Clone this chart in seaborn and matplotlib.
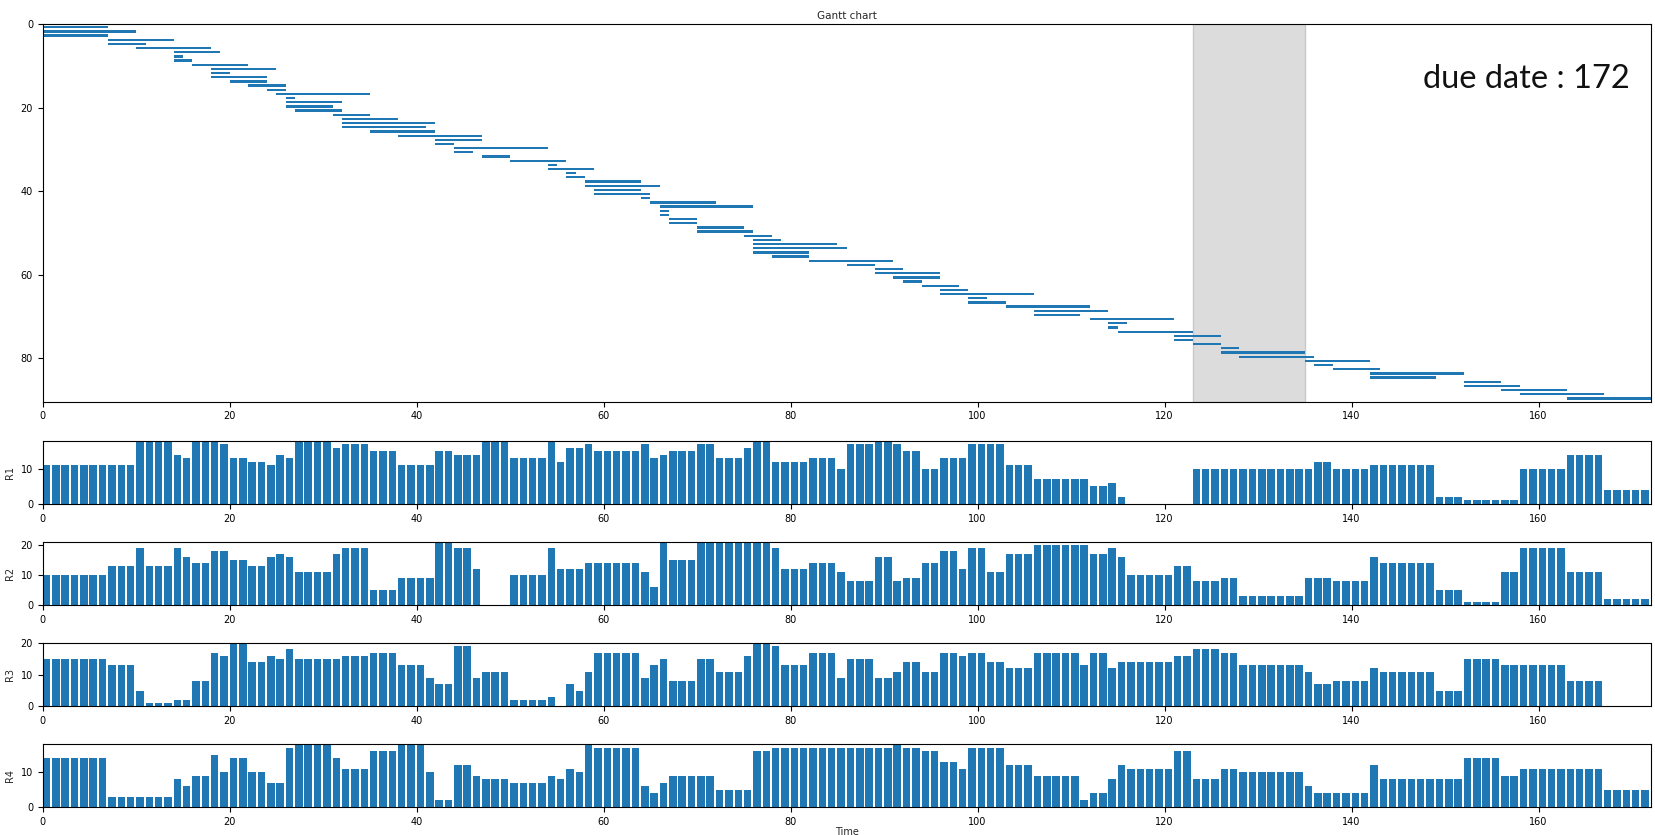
import numpy as np
import pandas as pd
import matplotlib
matplotlib.use("Agg")
import matplotlib.pyplot as plt
import seaborn as sns

# ---------------------------------------------------------------- schedule data
HORIZON = 172
DUE_DATE = 172
FROZEN_WINDOW = (123, 135)

task_start = [0, 0, 0, 7, 7, 10, 14, 14, 14, 16,
              18, 18, 18, 20, 22, 24, 25, 26, 26, 26,
              27, 31, 32, 32, 32, 35, 38, 42, 42, 44,
              44, 47, 50, 54, 54, 56, 56, 58, 58, 59,
              59, 64, 65, 66, 66, 66, 67, 67, 70, 70,
              75, 76, 76, 76, 76, 78, 82, 86, 89, 89,
              91, 92, 94, 96, 96, 99, 99, 103, 106, 106,
              112, 114, 114, 115, 121, 121, 123, 126, 126, 128,
              135, 136, 138, 142, 142, 152, 152, 156, 158, 163]
task_end = [7, 10, 7, 14, 11, 18, 19, 15, 16, 22,
            25, 20, 24, 24, 26, 26, 35, 27, 32, 31,
            32, 35, 38, 42, 41, 42, 47, 47, 44, 54,
            46, 50, 56, 55, 59, 57, 58, 64, 66, 64,
            65, 65, 72, 76, 67, 67, 70, 70, 75, 76,
            78, 79, 85, 86, 82, 82, 91, 89, 92, 96,
            96, 94, 98, 99, 106, 101, 103, 112, 114, 111,
            121, 116, 115, 123, 126, 123, 126, 128, 135, 136,
            142, 138, 143, 152, 149, 156, 158, 163, 167, 172]

resource_names = ["R1", "R2", "R3", "R4"]
resource_capacity = [18, 21, 20, 18]
resource_yticks = [[0, 10], [0, 10, 20], [0, 10, 20], [0, 10]]

usage_r1 = [11, 11, 11, 11, 11, 11, 11, 11, 11, 11,
            18, 18, 18, 18, 14, 13, 18, 18, 18, 17,
            13, 13, 12, 12, 11, 14, 13, 18, 18, 18,
            18, 16, 17, 17, 17, 15, 15, 15, 11, 11,
            11, 11, 15, 15, 14, 14, 14, 18, 18, 18,
            13, 13, 13, 13, 18, 12, 16, 16, 17, 15,
            15, 15, 15, 15, 17, 13, 14, 15, 15, 15,
            17, 17, 13, 13, 13, 16, 18, 18, 12, 12,
            12, 12, 13, 13, 13, 10, 17, 17, 17, 18,
            18, 17, 15, 15, 10, 10, 13, 13, 13, 17,
            17, 17, 17, 11, 11, 11, 7, 7, 7, 7,
            7, 7, 5, 5, 6, 2, 0, 0, 0, 0,
            0, 0, 0, 10, 10, 10, 10, 10, 10, 10,
            10, 10, 10, 10, 10, 10, 12, 12, 10, 10,
            10, 10, 11, 11, 11, 11, 11, 11, 11, 2,
            2, 2, 1, 1, 1, 1, 1, 1, 10, 10,
            10, 10, 10, 14, 14, 14, 14, 4, 4, 4,
            4, 4]
usage_r2 = [10, 10, 10, 10, 10, 10, 10, 13, 13, 13,
            19, 13, 13, 13, 19, 16, 14, 14, 18, 18,
            15, 15, 13, 13, 16, 17, 16, 11, 11, 11,
            11, 17, 19, 19, 19, 5, 5, 5, 9, 9,
            9, 9, 21, 21, 19, 19, 12, 0, 0, 0,
            10, 10, 10, 10, 19, 12, 12, 12, 14, 14,
            14, 14, 14, 14, 11, 6, 21, 15, 15, 15,
            21, 21, 21, 21, 21, 21, 21, 21, 19, 12,
            12, 12, 14, 14, 14, 11, 8, 8, 8, 16,
            16, 8, 9, 9, 14, 14, 18, 18, 12, 19,
            19, 11, 11, 17, 17, 17, 20, 20, 20, 20,
            20, 20, 17, 17, 19, 16, 10, 10, 10, 10,
            10, 13, 13, 8, 8, 8, 9, 9, 3, 3,
            3, 3, 3, 3, 3, 9, 9, 9, 8, 8,
            8, 8, 16, 14, 14, 14, 14, 14, 14, 5,
            5, 5, 1, 1, 1, 1, 11, 11, 19, 19,
            19, 19, 19, 11, 11, 11, 11, 2, 2, 2,
            2, 2]
usage_r3 = [15, 15, 15, 15, 15, 15, 15, 13, 13, 13,
            5, 1, 1, 1, 2, 2, 8, 8, 17, 16,
            20, 20, 14, 14, 16, 15, 18, 15, 15, 15,
            15, 15, 16, 16, 16, 17, 17, 17, 13, 13,
            13, 9, 7, 7, 19, 19, 9, 11, 11, 11,
            2, 2, 2, 2, 3, 0, 7, 5, 11, 17,
            17, 17, 17, 17, 9, 13, 15, 8, 8, 8,
            15, 15, 11, 11, 11, 16, 20, 20, 19, 13,
            13, 13, 17, 17, 17, 9, 15, 15, 15, 9,
            9, 11, 14, 14, 11, 11, 17, 17, 16, 17,
            17, 14, 14, 12, 12, 12, 17, 17, 17, 17,
            17, 13, 17, 17, 12, 14, 14, 14, 14, 14,
            14, 16, 16, 18, 18, 18, 17, 17, 13, 13,
            13, 13, 13, 13, 13, 11, 7, 7, 8, 8,
            8, 8, 12, 11, 11, 11, 11, 11, 11, 5,
            5, 5, 15, 15, 15, 15, 13, 13, 13, 13,
            13, 13, 13, 8, 8, 8, 8, 0, 0, 0,
            0, 0]
usage_r4 = [14, 14, 14, 14, 14, 14, 14, 3, 3, 3,
            3, 3, 3, 3, 8, 6, 9, 9, 15, 10,
            14, 14, 10, 10, 7, 7, 17, 18, 18, 18,
            18, 14, 11, 11, 11, 16, 16, 16, 18, 18,
            18, 10, 2, 2, 12, 12, 9, 8, 8, 8,
            7, 7, 7, 7, 9, 8, 11, 10, 18, 17,
            17, 17, 17, 17, 6, 4, 7, 9, 9, 9,
            9, 9, 5, 5, 5, 5, 16, 16, 17, 17,
            17, 17, 17, 17, 17, 17, 17, 17, 17, 17,
            17, 18, 17, 17, 16, 16, 13, 13, 11, 17,
            17, 17, 17, 12, 12, 12, 9, 9, 9, 9,
            9, 2, 4, 4, 8, 12, 11, 11, 11, 11,
            11, 16, 16, 8, 8, 8, 11, 11, 10, 10,
            10, 10, 10, 10, 10, 6, 4, 4, 4, 4,
            4, 4, 12, 8, 8, 8, 8, 8, 8, 8,
            8, 8, 14, 14, 14, 14, 9, 9, 11, 11,
            11, 11, 11, 11, 11, 11, 11, 5, 5, 5,
            5, 5]

usage = [usage_r1, usage_r2, usage_r3, usage_r4]

# ---------------------------------------------------------------- styling
BLUE = "#1f77b4"
sns.set_theme(style="ticks", rc={
    "axes.edgecolor": "black",
    "axes.linewidth": 0.8,
    "xtick.color": "black",
    "ytick.color": "black",
    "xtick.major.size": 3.5,
    "ytick.major.size": 3.5,
    "xtick.major.width": 0.8,
    "ytick.major.width": 0.8,
    "xtick.labelsize": 7,
    "ytick.labelsize": 7,
    "axes.labelsize": 7,
    "axes.titlesize": 7.5,
})
plt.rcParams["font.family"] = ["DejaVu Sans"]

fig = plt.figure(figsize=(16.56, 8.35), dpi=100)
LEFT, WIDTH = 0.0258, 0.9710

# ---------------------------------------------------------------- Gantt chart
tasks = pd.DataFrame({"start": task_start, "end": task_end})
tasks["row"] = np.arange(len(tasks)) + 0.7
tasks["duration"] = tasks["end"] - tasks["start"]

ax = fig.add_axes([LEFT, 0.5189, WIDTH, 0.4520])
ax.axvspan(*FROZEN_WINDOW, facecolor="#dcdcdc", edgecolor="#c8c8c8",
           linewidth=1.0, zorder=0)
ax.barh(tasks["row"], tasks["duration"], left=tasks["start"], height=0.55,
        color=BLUE, linewidth=0, zorder=2)
ax.set_xlim(0, HORIZON)
ax.set_ylim(len(tasks) + 0.5, 0)
ax.set_xticks(range(0, HORIZON, 20))
ax.set_yticks(range(0, len(tasks), 20))
ax.set_title("Gantt chart", pad=4)

fig.text(0.922, 0.905, f"due date : {DUE_DATE}", ha="center", va="center",
         fontsize=23.5, family=["Lato", "DejaVu Sans"], color="#111111")

# ---------------------------------------------------------------- resource usage
time = np.arange(HORIZON)
bottoms = [0.3964, 0.2754, 0.1541, 0.0332]
for name, cap, yt, vals, b in zip(resource_names, resource_capacity,
                                  resource_yticks, usage, bottoms):
    rax = fig.add_axes([LEFT, b, WIDTH, 0.0758])
    df = pd.DataFrame({"center": time + 0.4, "load": vals})
    sns.barplot(data=df, x="center", y="load", native_scale=True, width=0.8,
                color=BLUE, saturation=1, errorbar=None, ax=rax,
                linewidth=0)
    rax.set_xlim(0, HORIZON)
    rax.set_ylim(0, cap)
    rax.set_xticks(range(0, HORIZON, 20))
    rax.set_xticklabels([str(v) for v in range(0, HORIZON, 20)])
    rax.set_yticks(yt)
    rax.set_ylabel(name, labelpad=4)
    rax.set_xlabel("")

rax.set_xlabel("Time", labelpad=0)

fig.savefig("out.png", dpi=100)
